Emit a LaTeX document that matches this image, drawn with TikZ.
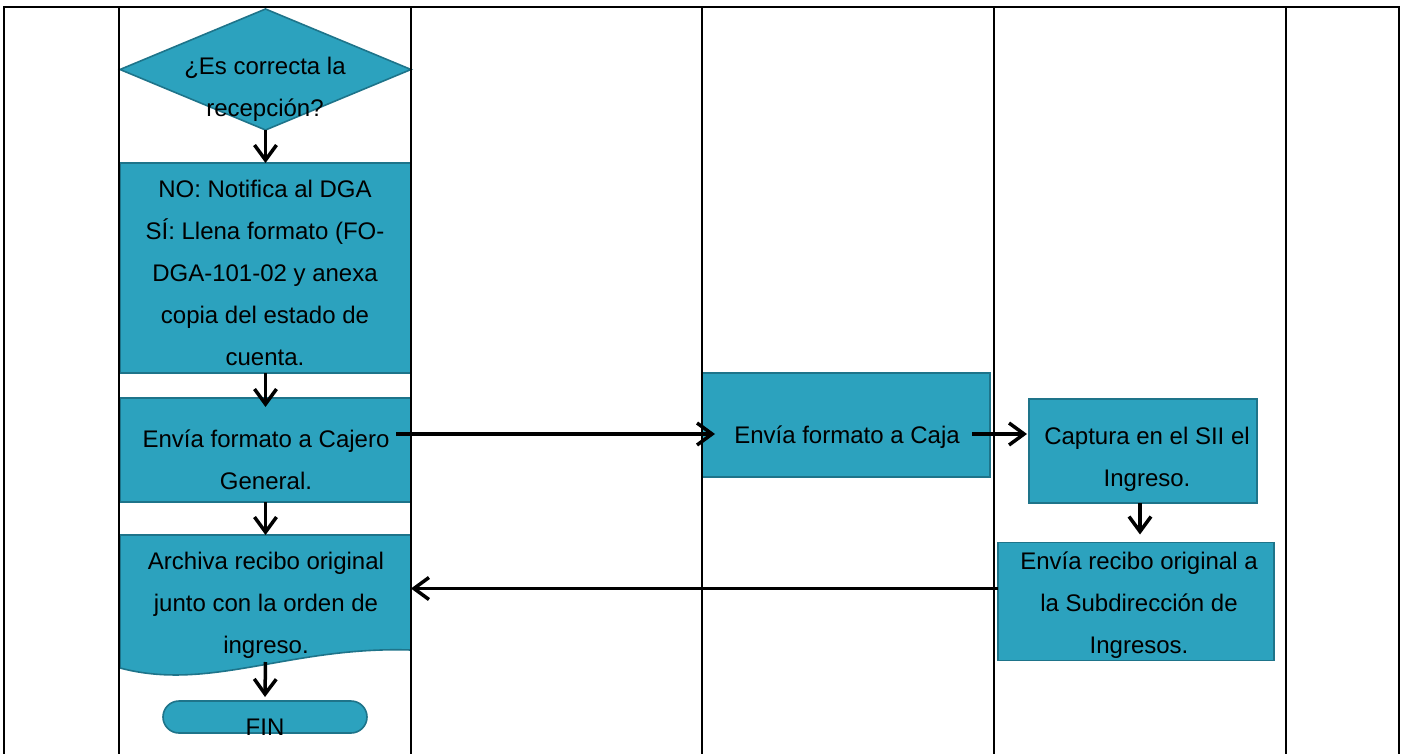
\documentclass[tikz,border=0pt]{standalone}
\usepackage{fontspec}
\setmainfont{Liberation Sans}
\usetikzlibrary{shapes.geometric,arrows.meta}
\definecolor{boxfill}{RGB}{44,162,190}
\definecolor{boxline}{RGB}{30,116,138}
\begin{document}
\begin{tikzpicture}[x=1pt,y=-1pt,
  lane/.style={line width=2.2pt},
  shp/.style={draw=boxline,fill=boxfill,line width=1.6pt,inner sep=0pt,outer sep=0pt},
  proc/.style={shp,rectangle},
  txt/.style={font=\fontsize{24}{42}\selectfont,align=center,inner sep=0pt},
  arr/.style={line width=3.5pt,-{Straight Barb[length=15pt,width=22pt]}}]
\useasboundingbox (0,0) rectangle (1403,754);

% shapes
\node[diamond,shp,minimum width=291pt,minimum height=121pt] (dec) at (265.5,69.5) {};
\node[proc,minimum width=291pt,minimum height=210pt] (b1) at (265.5,268) {};
\node[proc,minimum width=291pt,minimum height=104pt] (b2) at (265.5,450) {};
\node[minimum width=291pt,minimum height=133pt,inner sep=0pt,outer sep=0pt] (doc) at (265.5,601.5) {};
\filldraw[draw=boxline,fill=boxfill,line width=1.6pt]
  (doc.north west) -- (doc.north east) -- (411,650)
  .. controls (290,646) and (210,692) .. (doc.south west) -- cycle;
\node[shp,rectangle,rounded corners=16pt,minimum width=204pt,minimum height=32pt] (fin) at (265,717) {};
\node[proc,minimum width=288pt,minimum height=104pt] (caja) at (846,425) {};
\node[proc,minimum width=228pt,minimum height=104pt] (cap) at (1143,451) {};
\node[proc,minimum width=276pt,minimum height=118pt] (rec) at (1136,601.5) {};

% lanes
\draw[lane] (3,7) -- (1400,7);
\foreach \x in {4,119,411,702,994,1286,1399} \draw[lane] (\x,7) -- (\x,754);

% texts
\node[txt] (tdec) at (265,89) {¿Es correcta la\\recepción?};
\node[txt] (t1) at (265,273) {NO: Notifica al DGA\\SÍ: Llena formato (FO-\\DGA-101-02 y anexa\\copia del estado de\\cuenta.};
\node[txt] (t2) at (266,459.5) {Envía formato a Cajero\\General.};
\node[txt] (t3) at (266,605) {Archiva recibo original\\junto con la orden de\\ingreso.};
\node[txt] (t4) at (265,727) {FIN};
\node[txt] (t5) at (847,437) {Envía formato a Caja};
\node[txt] (t6) at (1147,459.5) {Captura en el SII el\\Ingreso.};
\node[txt] (t7) at (1139,605) {Envía recibo original a\\la Subdirección de\\Ingresos.};

% connectors
\draw[arr] (dec.south) -- (b1.north);
\draw[arr] (b1.south) -- ([yshift=-9pt]b2.north);
\draw[arr] (b2.south) -- (doc.north);
\draw[arr] ([yshift=6pt]doc.south) -- ([yshift=4pt]fin.north);
\draw[arr] ([xshift=-15pt,yshift=16pt]b2.east) -- ([xshift=13pt,yshift=-9pt]caja.west);
\draw[arr] ([xshift=-18pt,yshift=-9pt]caja.east) -- ([xshift=-2pt,yshift=17pt]cap.west);
\draw[arr] ([xshift=-3pt]cap.south) -- ([xshift=4pt,yshift=8pt]rec.north);
\draw[arr] ([yshift=13pt]rec.west) -- ([yshift=13pt]doc.east);
\end{tikzpicture}
\end{document}
